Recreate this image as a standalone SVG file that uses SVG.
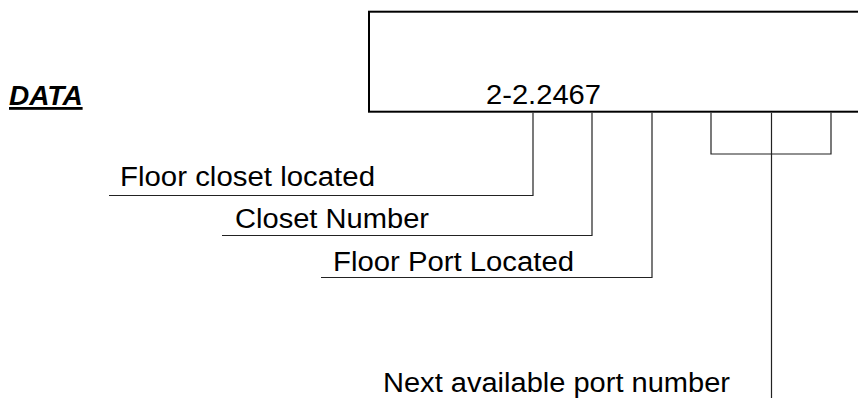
<svg xmlns="http://www.w3.org/2000/svg" width="858" height="398" viewBox="0 0 858 398">
  <style>
    .t { font-family: "Liberation Sans", Arial, sans-serif; font-size: 27px; fill: #000; }
    .title { font-family: "Liberation Sans", Arial, sans-serif; font-size: 28px; font-weight: bold; font-style: italic; text-decoration: underline; fill: #000; }
    .box { fill: #fff; stroke: #000; stroke-width: 2; }
    .c { fill: none; stroke: #222; stroke-width: 1.2; }
  </style>
  <rect width="858" height="398" fill="#fff"/>
  <g id="title">
    <text class="title" x="9" y="105">DATA</text>
  </g>
  <g id="code-box">
    <rect class="box" x="369" y="11.7" width="510" height="100"/>
    <text class="t" x="486" y="104" textLength="115" lengthAdjust="spacingAndGlyphs">2-2.2467</text>
  </g>
  <g id="connectors">
    <polyline class="c" points="533,112.7 533,195.5 109,195.5"/>
    <polyline class="c" points="592,112.7 592,235.5 222,235.5"/>
    <polyline class="c" points="652,112.7 652,277.5 321,277.5"/>
    <polyline class="c" points="711,112.7 711,154 831,154 831,112.7"/>
    <line class="c" x1="771.5" y1="112.7" x2="771.5" y2="398"/>
  </g>
  <g id="floor-closet">
    <text class="t" x="120" y="186" textLength="255" lengthAdjust="spacingAndGlyphs">Floor closet located</text>
  </g>
  <g id="closet-number">
    <text class="t" x="235" y="228" textLength="194" lengthAdjust="spacingAndGlyphs">Closet Number</text>
  </g>
  <g id="floor-port">
    <text class="t" x="333" y="271" textLength="241" lengthAdjust="spacingAndGlyphs">Floor Port Located</text>
  </g>
  <g id="next-port">
    <text class="t" x="383" y="392" textLength="347" lengthAdjust="spacingAndGlyphs">Next available port number</text>
  </g>
</svg>
